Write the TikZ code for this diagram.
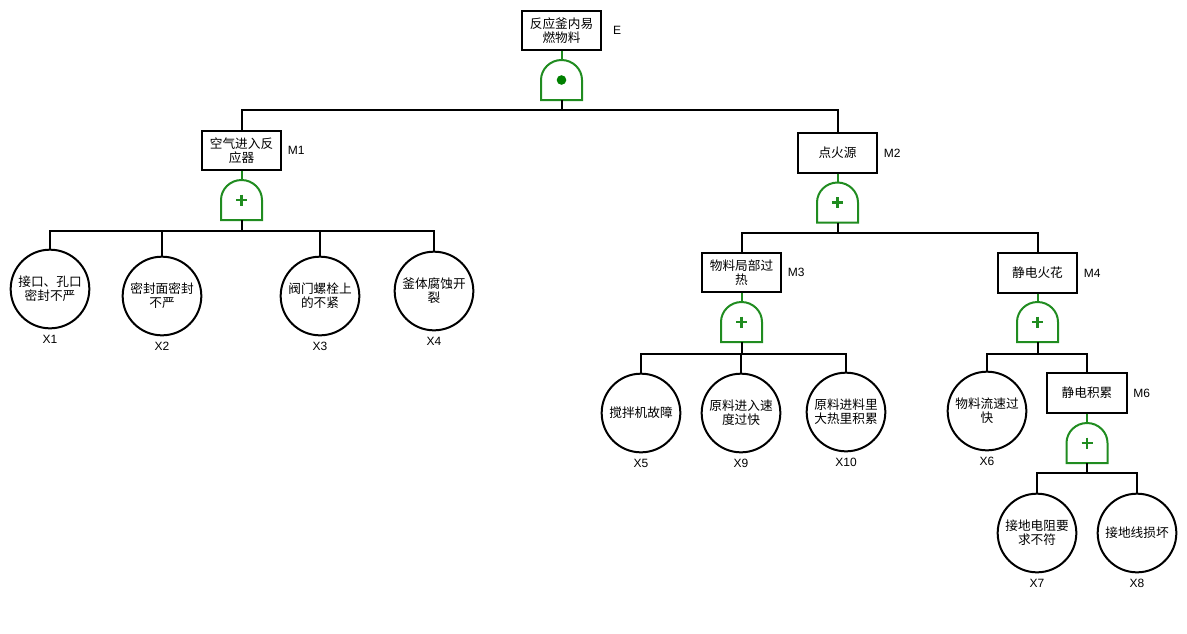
\documentclass[tikz,border=0pt]{standalone}
\usepackage{fontspec}
\setmainfont{Liberation Sans}
\newfontfamily\cjk{Noto Sans CJK SC}
\usetikzlibrary{positioning}
\definecolor{gategreen}{RGB}{32,140,32}
\definecolor{dotgreen}{RGB}{0,128,0}
\tikzset{
    event/.style={draw, line width=1.5pt, minimum width=59.5pt, minimum height=29.5pt, inner sep=0pt, align=center, font=\cjk\fontsize{9.5}{10.5}\selectfont},
    basic/.style={draw, circle, line width=1.5pt, minimum size=59pt, inner sep=0pt, align=center, font=\cjk\fontsize{9.5}{10.5}\selectfont},
    tag/.style={inner sep=1pt, font=\fontsize{9}{10}\selectfont},
    link/.style={line width=1.5pt},
    gate/.style={draw=gategreen, line width=1.5pt},
    gateshape/.pic={
        \draw[gate] (-20.5,0) -- (-20.5,-20) .. controls (-20.5,-31) and (-11.3,-40) .. (0,-40) .. controls (11.3,-40) and (20.5,-31) .. (20.5,-20) -- (20.5,0) -- cycle;
    },
    orgate/.pic={
        \pic {gateshape};
        \coordinate (-in) at (0,-40);
        \coordinate (-out) at (0,0);
        \draw[gate, line width=2pt] (-5.5,-20) -- (5.5,-20) (0,-25.5) -- (0,-14.5);
    },
    andgate/.pic={
        \pic {gateshape};
        \coordinate (-in) at (0,-40);
        \coordinate (-out) at (0,0);
        \fill[dotgreen] (0,-20) circle (3.6pt);
    },
}
\begin{document}
\begin{tikzpicture}[x=0.75pt, y=-0.75pt]
        \useasboundingbox (0,0) rectangle (1187,633);
        \node[event] (E) at (561.5,30.5) {反应釜内易\\燃物料};
        \node[tag, right=7pt of E] (Etag) {E};
        \pic (g0) at (561.5,100) {andgate};
        \draw[gate] (E) -- (g0-in);
        \node[event] (M1) at (241.5,150.5) {空气进入反\\应器};
        \node[tag, right=3pt of M1] (M1tag) {M1};
        \node[event] (M2) at (837.5,153) {点火源};
        \node[tag, right=3pt of M2] (M2tag) {M2};
        \draw[link] (g0-out) -- ++(0,10) -| (M1.north);
        \draw[link] (g0-out) -- ++(0,10) -| (M2.north);
        \pic (g1) at (241.5,220) {orgate};
        \draw[gate] (M1) -- (g1-in);
        \node[basic] (X1) at (50,289) {接口、孔口\\密封不严};
        \node[basic] (X2) at (162,296) {密封面密封\\不严};
        \node[basic] (X3) at (320,296) {阀门螺栓上\\的不紧};
        \node[basic] (X4) at (434,291) {釜体腐蚀开\\裂};
        \foreach \x in {X1,X2,X3,X4} {
            \draw[link] (g1-out) -- ++(0,11) -| (\x.north);
            \node[tag, below=3pt of \x] (\x tag) {\x};
        }
        \pic (g2) at (837.5,222.5) {orgate};
        \draw[gate] (M2) -- (g2-in);
        \node[event] (M3) at (741.5,272.5) {物料局部过\\热};
        \node[tag, right=3pt of M3] (M3tag) {M3};
        \node[event] (M4) at (1037.5,273) {静电火花};
        \node[tag, right=3pt of M4] (M4tag) {M4};
        \draw[link] (g2-out) -- ++(0,10.5) -| (M3.north);
        \draw[link] (g2-out) -- ++(0,10.5) -| (M4.north);
        \pic (g3) at (741.5,342) {orgate};
        \draw[gate] (M3) -- (g3-in);
        \node[basic] (X5) at (641,413) {搅拌机故障};
        \node[basic] (X9) at (741,413) {原料进入速\\度过快};
        \node[basic] (X10) at (846,412) {原料进料里\\大热里积累};
        \foreach \x in {X5,X9,X10} {
            \draw[link] (g3-out) -- ++(0,12) -| (\x.north);
            \node[tag, below=3pt of \x] (\x tag) {\x};
        }
        \pic (g4) at (1037.5,342) {orgate};
        \draw[gate] (M4) -- (g4-in);
        \node[basic] (X6) at (987,411) {物料流速过\\快};
        \node[tag, below=3pt of X6] (X6tag) {X6};
        \node[event] (M6) at (1087,393) {静电积累};
        \node[tag, right=3pt of M6] (M6tag) {M6};
        \draw[link] (g4-out) -- ++(0,12) -| (X6.north);
        \draw[link] (g4-out) -- ++(0,12) -| (M6.north);
        \pic (g6) at (1087,463) {orgate};
        \draw[gate] (M6) -- (g6-in);
        \node[basic] (X7) at (1037,533) {接地电阻要\\求不符};
        \node[basic] (X8) at (1137,533) {接地线损坏};
        \foreach \x in {X7,X8} {
            \draw[link] (g6-out) -- ++(0,10) -| (\x.north);
            \node[tag, below=3pt of \x] (\x tag) {\x};
        }
\end{tikzpicture}
\end{document}
